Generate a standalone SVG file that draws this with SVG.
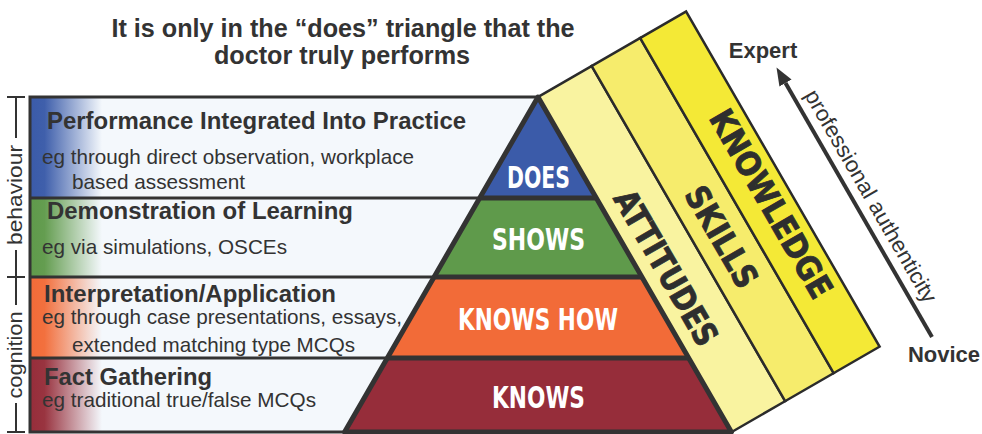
<svg xmlns="http://www.w3.org/2000/svg" width="982" height="434" viewBox="0 0 982 434">
<defs>
<style>
.t{font-family:"Liberation Sans",Arial,sans-serif;fill:#333}
.h{font-weight:bold;font-size:23px}
.r{font-size:21px}
.lab{font-family:"DejaVu Sans Condensed","Liberation Sans Narrow","DejaVu Sans",sans-serif;font-stretch:condensed;font-weight:bold;font-size:30px;fill:#fff;text-anchor:middle}
.band{font-family:"DejaVu Sans Condensed","Liberation Sans Narrow","DejaVu Sans",sans-serif;font-stretch:condensed;font-weight:900;font-size:33px;fill:#2e2e2e;stroke:#2e2e2e;stroke-width:0.8;text-anchor:middle}
.ln{stroke:#333;stroke-width:3;fill:none}
.tri{stroke:#333;stroke-width:5;fill:none;stroke-linejoin:round}
.bd{stroke:#2b2b2b;stroke-width:2.5}
</style>
<linearGradient id="gBlue" gradientUnits="userSpaceOnUse" x1="30" y1="0" x2="102" y2="0"><stop offset="0" stop-color="#3b5ba9"/><stop offset="0.2" stop-color="#3f5fab"/><stop offset="1" stop-color="#f4f8fc"/></linearGradient>
<linearGradient id="gGreen" gradientUnits="userSpaceOnUse" x1="30" y1="0" x2="102" y2="0"><stop offset="0" stop-color="#5f9a4b"/><stop offset="0.2" stop-color="#649d50"/><stop offset="1" stop-color="#f4f8fc"/></linearGradient>
<linearGradient id="gOrange" gradientUnits="userSpaceOnUse" x1="30" y1="0" x2="102" y2="0"><stop offset="0" stop-color="#f26b38"/><stop offset="0.2" stop-color="#f2703e"/><stop offset="1" stop-color="#f4f8fc"/></linearGradient>
<linearGradient id="gRed" gradientUnits="userSpaceOnUse" x1="30" y1="0" x2="102" y2="0"><stop offset="0" stop-color="#962d3a"/><stop offset="0.2" stop-color="#993440"/><stop offset="1" stop-color="#f4f8fc"/></linearGradient>
<marker id="head" markerUnits="userSpaceOnUse" markerWidth="18" markerHeight="14" refX="0" refY="7" orient="auto" viewBox="0 0 18 14"><path d="M0,0 L18,7 L0,14 z" fill="#333"/></marker>
</defs>

<g id="title">
<text class="t" x="343" y="37" font-size="25.2" font-weight="bold" text-anchor="middle">It is only in the “does” triangle that the</text>
<text class="t" x="342" y="64" font-size="25.2" font-weight="bold" text-anchor="middle">doctor truly performs</text>
</g>

<g id="rows">
<rect x="30" y="97" width="508" height="101" fill="url(#gBlue)"/>
<rect x="30" y="198" width="508" height="79" fill="url(#gGreen)"/>
<rect x="30" y="277" width="508" height="81" fill="url(#gOrange)"/>
<rect x="30" y="358" width="508" height="74" fill="url(#gRed)"/>
<path class="ln" d="M30,97 H538 M30,198 H500 M30,277 H460 M30,358 H420 M30,432 H731 M30,95.5 V433.5"/>
</g>

<g id="row-does">
<text class="t h" x="47" y="129" textLength="419" lengthAdjust="spacingAndGlyphs">Performance Integrated Into Practice</text>
<text class="t r" x="42" y="164" textLength="372" lengthAdjust="spacingAndGlyphs">eg through direct observation, workplace</text>
<text class="t r" x="72" y="189" textLength="173" lengthAdjust="spacingAndGlyphs">based assessment</text>
</g>
<g id="row-shows">
<text class="t h" x="47" y="219" textLength="306" lengthAdjust="spacingAndGlyphs">Demonstration of Learning</text>
<text class="t r" x="42" y="254" textLength="245" lengthAdjust="spacingAndGlyphs">eg via simulations, OSCEs</text>
</g>
<g id="row-knowshow">
<text class="t h" x="44" y="302" textLength="292" lengthAdjust="spacingAndGlyphs">Interpretation/Application</text>
<text class="t r" x="42" y="324" textLength="360" lengthAdjust="spacingAndGlyphs">eg through case presentations, essays,</text>
<text class="t r" x="72" y="352" textLength="283" lengthAdjust="spacingAndGlyphs">extended matching type MCQs</text>
</g>
<g id="row-knows">
<text class="t h" x="44" y="385" textLength="168" lengthAdjust="spacingAndGlyphs">Fact Gathering</text>
<text class="t r" x="42" y="407" textLength="274" lengthAdjust="spacingAndGlyphs">eg traditional true/false MCQs</text>
</g>

<g id="side-scale">
<path stroke="#333" stroke-width="2" fill="none" d="M16,97 V138 M16,250 V305 M16,403 V432 M7,97 H25 M7,277 H25 M7,432 H25"/>
<text class="t" transform="translate(22,195) rotate(-90)" font-size="21" text-anchor="middle" textLength="100" lengthAdjust="spacingAndGlyphs">behaviour</text>
<text class="t" transform="translate(22,355) rotate(-90)" font-size="21" text-anchor="middle" textLength="87" lengthAdjust="spacingAndGlyphs">cognition</text>
</g>

<g id="bands" transform="translate(538,97) rotate(-30)">
<rect class="bd" x="0" y="0" width="62" height="387" fill="#f9f3a0"/>
<rect class="bd" x="62" y="0" width="56" height="387" fill="#f6ec6c"/>
<rect class="bd" x="118" y="0" width="53" height="387" fill="#f4e936"/>
<text class="band" transform="rotate(90)" x="212" y="-14" textLength="174" lengthAdjust="spacingAndGlyphs">ATTITUDES</text>
<text class="band" transform="rotate(90)" x="213" y="-77.5" textLength="112" lengthAdjust="spacingAndGlyphs">SKILLS</text>
<text class="band" transform="rotate(90)" x="209" y="-137" textLength="212" lengthAdjust="spacingAndGlyphs">KNOWLEDGE</text>
</g>

<g id="pyramid">
<g id="does">
<polygon points="538,97 596.3,198 479.7,198" fill="#3b5ba9"/>
<text class="lab" x="538.5" y="188" textLength="63" lengthAdjust="spacingAndGlyphs">DOES</text>
</g>
<g id="shows">
<polygon points="479.7,198 596.3,198 641.9,277 434.1,277" fill="#5f9a4b"/>
<text class="lab" x="538.5" y="250" textLength="93" lengthAdjust="spacingAndGlyphs">SHOWS</text>
</g>
<g id="knowshow">
<polygon points="434.1,277 641.9,277 688.7,358 387.3,358" fill="#f26b38"/>
<text class="lab" x="538" y="330" textLength="160" lengthAdjust="spacingAndGlyphs">KNOWS HOW</text>
</g>
<g id="knows">
<polygon points="387.3,358 688.7,358 731.4,432 344.6,432" fill="#962d3a"/>
<text class="lab" x="538.5" y="408" textLength="93" lengthAdjust="spacingAndGlyphs">KNOWS</text>
</g>
<polygon class="tri" points="538,97 731.4,432 344.6,432"/>
<path class="tri" d="M479.7,198 H596.3 M434.1,277 H641.9 M387.3,358 H688.7"/>
</g>

<g id="connectors">
<line x1="932" y1="337" x2="785.5" y2="83.1" stroke="#333" stroke-width="4" marker-end="url(#head)"/>
</g>
<g id="axis-labels">
<text class="t" x="763" y="58" font-size="22" font-weight="bold" text-anchor="middle">Expert</text>
<text class="t" x="944" y="362" font-size="22" font-weight="bold" text-anchor="middle">Novice</text>
<text class="t" transform="translate(864.5,199.8) rotate(60)" font-size="22" text-anchor="middle" textLength="242" lengthAdjust="spacingAndGlyphs">professional authenticity</text>
</g>
</svg>
